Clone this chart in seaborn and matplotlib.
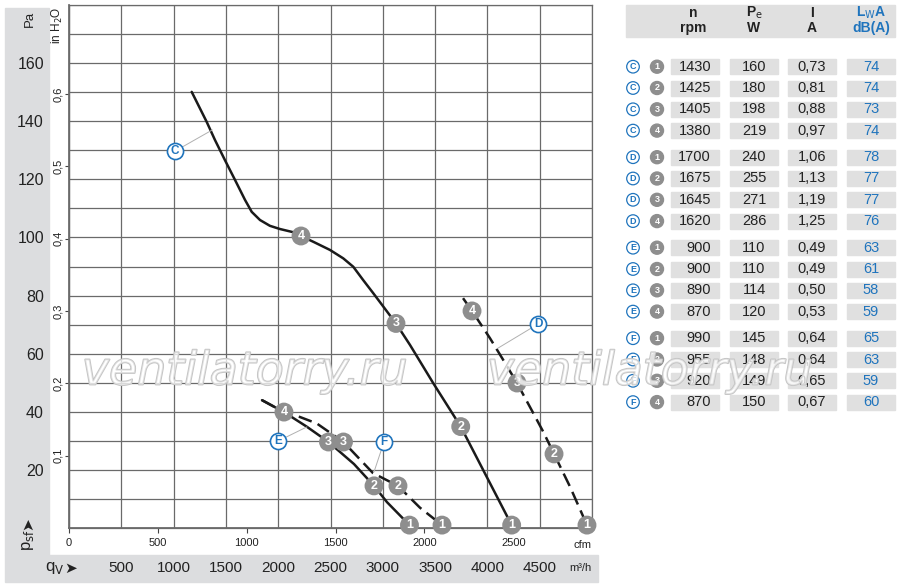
import pandas as pd
import seaborn as sns
import matplotlib.pyplot as plt
import matplotlib.patheffects as pe
from matplotlib.patches import Rectangle, Circle
from matplotlib.ticker import FuncFormatter

# characteristic curves, flow in m3/h, static pressure in Pa
c_q = [1173, 1316, 1396, 1491, 1587, 1683, 1747, 1826, 1921, 2017, 2144, 2218, 2336, 2495,
       2622, 2718, 2813, 2909, 3126, 3260, 3483, 3745, 4232]
c_pa = [150.1, 139.8, 133.5, 126.6, 119.8, 112.9, 108.8, 106.0, 104.0, 102.9, 101.8, 100.5, 98.5, 95.7,
        92.8, 89.9, 85.3, 80.8, 70.4, 63.0, 49.8, 34.9, 1.0]
d_q = [3767, 3853, 4025, 4152, 4283, 4439, 4534, 4637, 4790, 4952]
d_pa = [79.1, 74.7, 65.3, 57.8, 49.9, 39.5, 33.1, 25.5, 14.2, 1.0]
e_q = [1845, 2055, 2272, 2481, 2725, 2916, 3040, 3255]
e_pa = [44.0, 39.9, 34.9, 29.6, 22.0, 14.5, 8.9, 1.0]
f_q = [1845, 2055, 2208, 2368, 2624, 2906, 3145, 3355, 3566]
f_pa = [44.0, 39.9, 38.2, 36.0, 29.6, 18.9, 14.5, 7.0, 1.0]

# operating points 1..4 on each curve
pt_curve = ['C'] * 4 + ['D'] * 4 + ['E'] * 4 + ['F'] * 3
pt_num = [1, 2, 3, 4, 1, 2, 3, 4, 1, 2, 3, 4, 1, 2, 3]
pt_q = [4232, 3745, 3126, 2218, 4952, 4637, 4283, 3853, 3255, 2916, 2481, 2055, 3566, 3145, 2624]
pt_pa = [1.0, 34.9, 70.4, 100.5, 1.0, 25.5, 49.9, 74.7, 1.0, 14.5, 29.6, 39.9, 1.0, 14.5, 29.6]

# curve name tags and where their leader lines touch the curve
tag_names = ['C', 'D', 'E', 'F']
tag_q = [1013, 4484, 1998, 3011]
tag_pa = [129.7, 70.2, 29.9, 29.6]
lead_q = [1370, 4101, 2275, 2916]
lead_pa = [137.0, 61.9, 34.8, 19.3]

# table on the right
rpm = [1430, 1425, 1405, 1380, 1700, 1675, 1645, 1620, 900, 900, 890, 870, 990, 955, 920, 870]
watts = [160, 180, 198, 219, 240, 255, 271, 286, 110, 110, 114, 120, 145, 148, 149, 150]
amps = ['0,73', '0,81', '0,88', '0,97', '1,06', '1,13', '1,19', '1,25',
        '0,49', '0,49', '0,50', '0,53', '0,64', '0,64', '0,65', '0,67']
dba = [74, 74, 73, 74, 78, 77, 77, 76, 63, 61, 58, 59, 65, 63, 59, 60]

pa_ticks = list(range(20, 161, 20))
inh2o_ticks = [0.1, 0.2, 0.3, 0.4, 0.5, 0.6]
cfm_ticks = [0, 500, 1000, 1500, 2000, 2500]
m3h_ticks = list(range(500, 4501, 500))

BLUE = '#1f74bd'
MARK = '#8e8e8e'
CELL = '#e0e0e0'
GRID = '#6a6a6a'
INK = '#222222'

sns.set_theme(style='white')
plt.rcParams['font.family'] = ['Liberation Sans Narrow', 'Liberation Sans', 'DejaVu Sans']

curves = pd.concat([
    pd.DataFrame({'curve': k, 'q': q, 'pa': p})
    for k, q, p in [('C', c_q, c_pa), ('D', d_q, d_pa), ('E', e_q, e_pa), ('F', f_q, f_pa)]
])
points = pd.DataFrame({'curve': pt_curve, 'num': pt_num, 'q': pt_q, 'pa': pt_pa})
tags = pd.DataFrame({'name': tag_names, 'q': tag_q, 'pa': tag_pa})

fig = plt.figure(figsize=(9, 5.87), dpi=100)

# background with the grey bands, below the chart
bg = fig.add_axes([0, 0, 1, 1], zorder=0)
bg.set_xlim(0, 900)
bg.set_ylim(587, 0)
bg.axis('off')
bg.add_patch(Rectangle((5, 8), 44, 547, color='#dcdddf'))
bg.add_patch(Rectangle((5, 555), 593, 27, color='#dcdddf'))

ax = fig.add_axes([69 / 900, 59 / 587, 523 / 900, 523 / 587], zorder=1)

# overlay for captions, table and watermark
ov = fig.add_axes([0, 0, 1, 1], zorder=5)
ov.set_xlim(0, 900)
ov.set_ylim(587, 0)
ov.axis('off')
ov.patch.set_visible(False)

ax.set_xlim(0, 5000)
ax.set_ylim(0, 180)
ax.set_xticks(range(0, 5001, 500))
ax.set_yticks(range(0, 181, 10))
ax.grid(True, color=GRID, lw=0.9)
ax.tick_params(axis='x', length=0, labelbottom=False)
ax.tick_params(axis='y', length=0, pad=18, labelsize=11.5, labelcolor=INK)
for s in ax.spines.values():
    s.set_color(GRID)
    s.set_linewidth(0.9)

sec_y = ax.secondary_yaxis('left', functions=(lambda p: p / 248.84, lambda w: w * 248.84))
sec_y.set_yticks(inh2o_ticks)
sec_y.set_yticklabels([f'{t:.1f}'.replace('.', ',') for t in inh2o_ticks], rotation=90, va='center')
sec_y.tick_params(length=3, width=0.8, color='#444444', labelsize=8, pad=1.5, labelcolor=INK)
sec_y.spines['left'].set_color(GRID)

cfm_ax = ax.secondary_xaxis('bottom', functions=(lambda q: q / 1.699, lambda c: c * 1.699))
cfm_ax.set_xticks(cfm_ticks)
cfm_ax.tick_params(length=3.5, width=0.8, color='#444444', labelsize=8, pad=4, labelcolor=INK)
cfm_ax.spines['bottom'].set_color(GRID)

m3_ax = ax.secondary_xaxis(-0.064)
m3_ax.set_xticks(m3h_ticks)
m3_ax.tick_params(length=0, labelsize=11, pad=0, labelcolor=INK)
m3_ax.spines['bottom'].set_visible(False)

sns.lineplot(data=curves, x='q', y='pa', hue='curve', style='curve',
             palette={'C': '#1a1a1a', 'D': '#1a1a1a', 'E': '#1a1a1a', 'F': '#1a1a1a'},
             dashes={'C': '', 'D': (5.5, 2.6), 'E': '', 'F': (5.5, 2.6)},
             sort=False, estimator=None, legend=False, lw=1.8, ax=ax, zorder=3)
for ln in ax.lines:
    ln.set_solid_joinstyle('round')

for i in range(len(tags)):
    ax.plot([tag_q[i], lead_q[i]], [tag_pa[i], lead_pa[i]], color='#b0b0b0', lw=0.7, zorder=3)

sns.scatterplot(data=points, x='q', y='pa', color=MARK, s=185, edgecolor='none',
                legend=False, ax=ax, zorder=4, clip_on=False)
for _, r in points.iterrows():
    ax.text(r.q, r.pa, str(r.num), color='white', fontsize=9, fontweight='bold',
            ha='center', va='center', zorder=5, clip_on=False)

sns.scatterplot(data=tags, x='q', y='pa', color='white', s=135, edgecolor=BLUE, linewidth=1.2,
                legend=False, ax=ax, zorder=4)
for _, r in tags.iterrows():
    ax.text(r.q, r.pa, r['name'], color=BLUE, fontsize=8.5, fontweight='bold',
            ha='center', va='center', zorder=5)
ax.set_xlabel('')
ax.set_ylabel('')
ax.yaxis.set_major_formatter(FuncFormatter(lambda v, p: f'{int(round(v))}' if round(v) in pa_ticks else ''))

# axis captions
ov.text(30, 19, 'Pa', rotation=90, ha='center', va='center', fontsize=9.5, color=INK)
ov.text(57, 25, 'in H$_2$O', rotation=90, ha='center', va='center', fontsize=8.5, color=INK)
ov.text(28, 540, 'p$_{\\mathrm{sf}}$', rotation=90, ha='center', va='center', fontsize=12, color=INK)
ov.text(28, 524, '➤', rotation=90, ha='center', va='center', fontsize=11, color=INK, family='DejaVu Sans')
ov.text(55, 568, 'q$_\\mathrm{V}$', ha='center', va='center', fontsize=12, color=INK)
ov.text(71, 568, '➤', ha='center', va='center', fontsize=11, color=INK, family='DejaVu Sans')
ov.text(582, 545, 'cfm', ha='center', va='center', fontsize=8, color=INK)
ov.text(580, 568, 'm³/h', ha='center', va='center', fontsize=8, color=INK)

# table
ov.add_patch(Rectangle((626, 5), 269, 32, color=CELL, zorder=1))
heads = [(693, 'n', 'rpm', INK), (754, 'P$_\\mathrm{e}$', 'W', INK),
         (812, 'I', 'A', INK), (871, 'L$_\\mathrm{W}$A', 'dB(A)', BLUE)]
for x, top, bot, col in heads:
    ov.text(x, 13, top, ha='center', va='center', fontsize=10, fontweight='bold', color=col, zorder=2)
    ov.text(x, 28, bot, ha='center', va='center', fontsize=10, fontweight='bold', color=col, zorder=2)

cells = [(671, 48), (730, 48), (788, 48), (847, 48)]
for k in range(16):
    g, i = divmod(k, 4)
    y = 66.7 + g * 90.5 + i * 21.3
    for x0, w in cells:
        ov.add_patch(Rectangle((x0, y - 7.5), w, 15, color=CELL, zorder=1))
    ov.add_patch(Circle((633, y), 6.3, facecolor='white', edgecolor=BLUE, lw=0.9, zorder=2))
    ov.text(633, y, tag_names[g], ha='center', va='center', fontsize=6.5, fontweight='bold', color=BLUE, zorder=3)
    ov.add_patch(Circle((657, y), 6.5, color=MARK, zorder=2))
    ov.text(657, y, str(i + 1), ha='center', va='center', fontsize=6.5, fontweight='bold', color='white', zorder=3)
    ov.text(711, y, str(rpm[k]), ha='right', va='center', fontsize=10.5, color=INK, zorder=3)
    ov.text(754, y, str(watts[k]), ha='center', va='center', fontsize=10.5, color=INK, zorder=3)
    ov.text(812, y, amps[k], ha='center', va='center', fontsize=10.5, color=INK, zorder=3)
    ov.text(871, y, str(dba[k]), ha='center', va='center', fontsize=10.5, color=BLUE, zorder=3)

# watermark
for x in (245, 650):
    ov.text(x, 372, 'ventilatorry.ru', ha='center', va='center', fontsize=33, style='italic',
            family='DejaVu Sans', color=(1, 1, 1, 0.5), zorder=10,
            path_effects=[pe.withStroke(linewidth=1.3, foreground='#c4c4c4')])

fig.savefig('out.png', dpi=100)
